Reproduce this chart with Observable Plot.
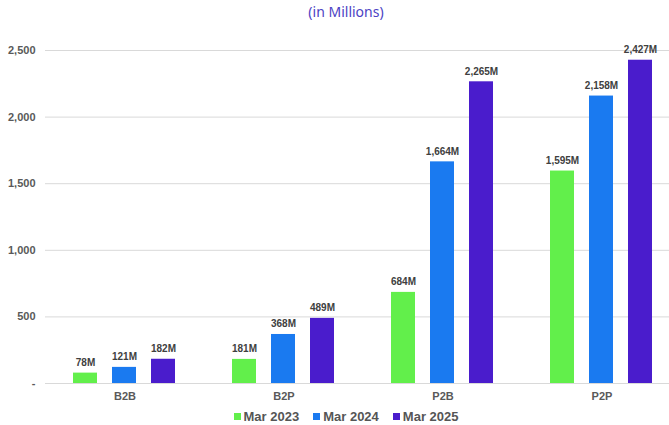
<!DOCTYPE html>
<html>
<head>
<meta charset="utf-8">
<script src="https://cdn.jsdelivr.net/npm/d3@7"></script>
<script src="https://cdn.jsdelivr.net/npm/@observablehq/plot@0.6"></script>
<style>
  html, body { margin: 0; padding: 0; background: #fff; overflow: hidden; width: 669px; height: 425px; }
  #wrap { position: relative; width: 681px; height: 425px; }
  #title { position: absolute; top: 3px; left: 0; width: 692px; text-align: center; font-family: "Noto Sans", sans-serif; font-size: 14px; color: #4c42c4; line-height: 18px; }
  #chart { position: absolute; top: 20px; left: 0; }
  #legend { position: absolute; top: 409px; left: 0; width: 692px; display: flex; justify-content: center; gap: 14px; font-family: "Liberation Sans", Arial, sans-serif; font-weight: bold; font-size: 13px; color: #555; line-height: 16px; }
  #legend span.sw { display: inline-block; width: 7px; height: 7px; margin-right: 3px; vertical-align: 1px; }
</style>
</head>
<body>
<div id="wrap">
  <div id="title">(in Millions)</div>
  <div id="chart"></div>
  <div id="legend"></div>
</div>
<script>
const categories = ["B2B", "B2P", "P2B", "P2P"];
const seriesNames = ["Mar 2023", "Mar 2024", "Mar 2025"];
const mar2023 = [78, 181, 684, 1595];
const mar2024 = [121, 368, 1664, 2158];
const mar2025 = [182, 489, 2265, 2427];
const colors = ["#62ef4b", "#1a7af0", "#4a1ccc"];
const yTicks = [0, 500, 1000, 1500, 2000, 2500];

const seriesValues = [mar2023, mar2024, mar2025];
const data = [];
categories.forEach((c, i) => {
  seriesNames.forEach((s, j) => {
    data.push({cat: c, series: s, value: seriesValues[j][i]});
  });
});

const fmt = d3.format(",");

const plot = Plot.plot({
  width: 681,
  height: 390,
  marginLeft: 45,
  marginRight: 0,
  marginTop: 30,
  marginBottom: 27,
  style: {fontFamily: "Liberation Sans, Arial, sans-serif", background: "transparent"},
  fx: {domain: categories, padding: 0, label: null, tickSize: 0, tickPadding: 9, axis: "bottom"},
  x: {domain: seriesNames, paddingInner: 0.38, paddingOuter: 0.7, axis: null},
  y: {domain: [0, 2500], ticks: yTicks, label: null, axis: null},
  color: {domain: seriesNames, range: colors},
  marks: [
    Plot.ruleY(yTicks, {stroke: "#d9d9d9", strokeWidth: 1}),
    Plot.barY(data, {fx: "cat", x: "series", y: "value", fill: "series"}),
    Plot.text(data, {fx: "cat", x: "series", y: "value", text: d => fmt(d.value) + "M",
      lineAnchor: "bottom", dy: -7, fontSize: 10, fontWeight: "bold", fill: "#404040"}),
    Plot.axisY(yTicks, {tickSize: 0, tickPadding: 10, fontSize: 11, fontWeight: "bold", fill: "#595959",
      tickFormat: d => d === 0 ? "-" : fmt(d), label: null, facetAnchor: "left"})
  ]
});
const fxg = plot.querySelector('[aria-label="fx-axis tick label"]');
if (fxg) { fxg.setAttribute("font-size", "11"); fxg.setAttribute("fill", "#595959"); fxg.setAttribute("font-weight", "bold"); }
document.getElementById("chart").appendChild(plot);

const legend = document.getElementById("legend");
seriesNames.forEach((s, i) => {
  const item = document.createElement("div");
  const sw = document.createElement("span");
  sw.className = "sw";
  sw.style.background = colors[i];
  item.appendChild(sw);
  item.appendChild(document.createTextNode(s));
  legend.appendChild(item);
});
</script>
</body>
</html>
